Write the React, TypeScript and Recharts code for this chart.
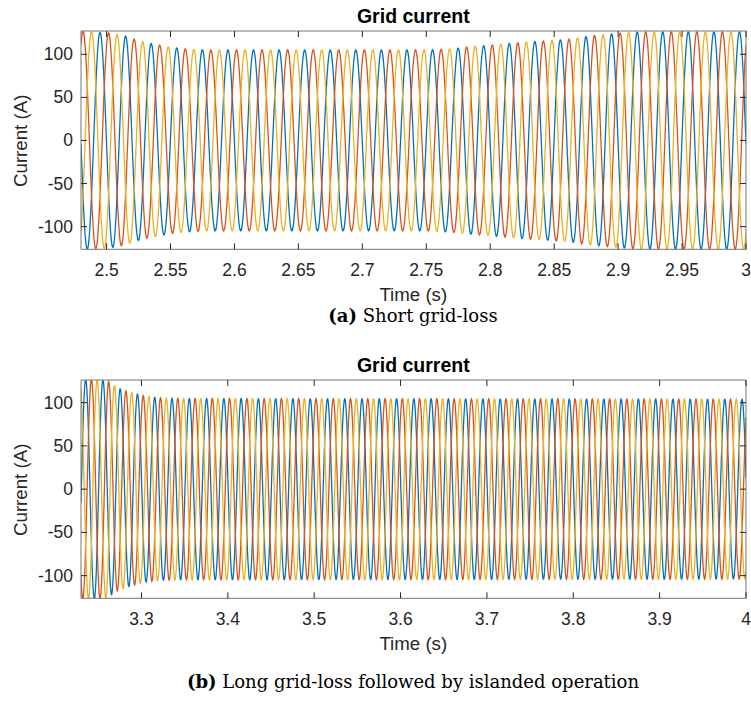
import React from "react";
import { LineChart, Line, XAxis, YAxis } from "recharts";

// ---- data ----
const FREQ_HZ = 50;
const PHASE_SHIFT_CYCLES = { blue: 0, red: 1 / 3, yellow: 2 / 3 }; // lag after blue

// (a) Short grid-loss: current amplitude envelope (A) vs time (s)
const TOP_ENV_T = [2.48, 2.49, 2.5, 2.505, 2.51, 2.515, 2.52, 2.525, 2.53, 2.535, 2.54, 2.545, 2.55, 2.555, 2.56, 2.57, 2.58, 2.75, 2.76, 2.77, 2.78, 2.79, 2.8, 2.81, 2.82, 2.83, 2.84, 2.85, 2.86, 2.87, 2.88, 2.89, 2.9, 2.91, 2.92, 3.0];
const TOP_ENV_A = [126.5, 126, 125, 124, 122.5, 121, 118.5, 116, 114, 112.5, 111, 109.5, 108, 107.3, 106.5, 105.5, 105, 105, 105.5, 106.5, 108, 109.5, 110.5, 112, 113, 114.5, 115, 116.5, 117, 119.5, 121.5, 123, 124.2, 125.5, 126, 126];
const TOP_BLUE_PEAK_T = 2.4949;
const TOP_X_DOMAIN = [2.48, 3.0];
const TOP_Y_DOMAIN = [-126.3, 127];
const TOP_X_TICKS = [2.5, 2.55, 2.6, 2.65, 2.7, 2.75, 2.8, 2.85, 2.9, 2.95, 3];

// (b) Long grid-loss followed by islanded operation
const BOT_ENV_T = [3.23, 3.25, 3.258, 3.262, 3.266, 3.27, 3.275, 3.28, 3.285, 3.29, 3.295, 3.3, 3.305, 3.31, 3.315, 3.325, 3.35, 3.6, 4.0];
const BOT_ENV_A = [127, 127, 126, 124.5, 121.5, 118.5, 116.3, 114, 112.7, 111.5, 110, 108.5, 107.5, 106.8, 106.2, 105.3, 104.8, 104.5, 104];
const BOT_BLUE_PEAK_T = 3.2954;
const BOT_X_DOMAIN = [3.23, 4.0];
const BOT_Y_DOMAIN = [-126.2, 126.2];
const BOT_X_TICKS = [3.3, 3.4, 3.5, 3.6, 3.7, 3.8, 3.9, 4];

const Y_TICKS = [-100, -50, 0, 50, 100];

const TITLE = "Grid current";
const X_LABEL = "Time (s)";
const Y_LABEL = "Current (A)";
const CAPTION_A = ["(a)", " Short grid-loss"];
const CAPTION_B = ["(b)", " Long grid-loss followed by islanded operation"];

const COLORS = { blue: "#0072BD", red: "#D95319", yellow: "#EDB120" };

// ---- build sampled waveforms ----
const STEP = 0.0004;

function envAt(ts: number[], as: number[], t: number) {
  if (t <= ts[0]) return as[0];
  for (let i = 1; i < ts.length; i++) {
    if (t <= ts[i]) {
      const f = (t - ts[i - 1]) / (ts[i] - ts[i - 1]);
      return as[i - 1] + f * (as[i] - as[i - 1]);
    }
  }
  return as[as.length - 1];
}

function buildData(domain: number[], envT: number[], envA: number[], peakT: number) {
  const out: any[] = [];
  const n = Math.round((domain[1] - domain[0]) / STEP);
  for (let i = 0; i <= n; i++) {
    const t = domain[0] + i * STEP;
    const A = envAt(envT, envA, t);
    const th = 2 * Math.PI * FREQ_HZ * (t - peakT);
    out.push({
      t,
      blue: A * Math.cos(th - 2 * Math.PI * PHASE_SHIFT_CYCLES.blue),
      red: A * Math.cos(th - 2 * Math.PI * PHASE_SHIFT_CYCLES.red),
      yellow: A * Math.cos(th - 2 * Math.PI * PHASE_SHIFT_CYCLES.yellow),
    });
  }
  return out;
}

const topData = buildData(TOP_X_DOMAIN, TOP_ENV_T, TOP_ENV_A, TOP_BLUE_PEAK_T);
const botData = buildData(BOT_X_DOMAIN, BOT_ENV_T, BOT_ENV_A, BOT_BLUE_PEAK_T);

// ---- styling ----
const FONT = "'Liberation Sans', Arial, Helvetica, sans-serif";
const TICK_COLOR = "#262626";
const AXIS_COLOR = "#767676";
const TICK_LEN = 6;
const TICK_FS = 17.5;

const BottomTick = (p: any) => (
  <g>
    <line x1={p.x} x2={p.x} y1={p.y} y2={p.y - TICK_LEN} stroke={TICK_COLOR} strokeWidth={1} />
    <text x={p.x} y={p.y + 27} textAnchor="middle" fontSize={TICK_FS} fill={TICK_COLOR} fontFamily={FONT}>
      {String(p.payload.value)}
    </text>
  </g>
);
const TopTick = (p: any) => (
  <line x1={p.x} x2={p.x} y1={p.y} y2={p.y + TICK_LEN} stroke={TICK_COLOR} strokeWidth={1} />
);
const LeftTick = (p: any) => (
  <g>
    <line x1={p.x} x2={p.x + TICK_LEN} y1={p.y} y2={p.y} stroke={TICK_COLOR} strokeWidth={1} />
    <text x={p.x - 8} y={p.y + 6} textAnchor="end" fontSize={TICK_FS} fill={TICK_COLOR} fontFamily={FONT}>
      {String(p.payload.value)}
    </text>
  </g>
);
const RightTick = (p: any) => (
  <line x1={p.x} x2={p.x - TICK_LEN} y1={p.y} y2={p.y} stroke={TICK_COLOR} strokeWidth={1} />
);

function Panel({ data, xDomain, yDomain, xTicks }: any) {
  return (
    <LineChart width={751} height={300} data={data} margin={{ top: 30, right: 4, left: 0, bottom: 0 }}>
      <XAxis
        xAxisId="b"
        dataKey="t"
        type="number"
        domain={xDomain}
        ticks={xTicks}
        allowDataOverflow
        height={50.7}
        tickSize={0}
        tickMargin={0}
        tickLine={false}
        axisLine={{ stroke: AXIS_COLOR }}
        tick={<BottomTick />}
        interval={0}
      />
      <XAxis
        xAxisId="t"
        orientation="top"
        dataKey="t"
        type="number"
        domain={xDomain}
        ticks={xTicks}
        allowDataOverflow
        height={1}
        tickSize={0}
        tickMargin={0}
        tickLine={false}
        axisLine={{ stroke: AXIS_COLOR }}
        tick={<TopTick />}
        interval={0}
      />
      <YAxis
        yAxisId="l"
        type="number"
        domain={yDomain}
        ticks={Y_TICKS}
        allowDataOverflow
        width={81}
        tickSize={0}
        tickMargin={0}
        tickLine={false}
        axisLine={{ stroke: AXIS_COLOR }}
        tick={<LeftTick />}
        interval={0}
      />
      <YAxis
        yAxisId="r"
        orientation="right"
        type="number"
        domain={yDomain}
        ticks={Y_TICKS}
        allowDataOverflow
        width={1}
        tickSize={0}
        tickMargin={0}
        tickLine={false}
        axisLine={{ stroke: AXIS_COLOR }}
        tick={<RightTick />}
        interval={0}
      />
      <Line xAxisId="b" yAxisId="l" dataKey="blue" stroke={COLORS.blue} strokeWidth={1.3} dot={false} type="linear" isAnimationActive={false} />
      <Line xAxisId="b" yAxisId="l" dataKey="red" stroke={COLORS.red} strokeWidth={1.3} dot={false} type="linear" isAnimationActive={false} />
      <Line xAxisId="b" yAxisId="l" dataKey="yellow" stroke={COLORS.yellow} strokeWidth={1.3} dot={false} type="linear" isAnimationActive={false} />
    </LineChart>
  );
}

const SERIF = "'DejaVu Serif', 'Liberation Serif', serif";

export default function App() {
  const off = 349;
  return (
    <div style={{ position: "absolute", left: 0, top: 0, width: 751, height: 702, background: "#fff" }}>
      <div style={{ position: "absolute", left: 0, top: 0 }}>
        <Panel data={topData} xDomain={TOP_X_DOMAIN} yDomain={TOP_Y_DOMAIN} xTicks={TOP_X_TICKS} />
      </div>
      <div style={{ position: "absolute", left: 0, top: off }}>
        <Panel data={botData} xDomain={BOT_X_DOMAIN} yDomain={BOT_Y_DOMAIN} xTicks={BOT_X_TICKS} />
      </div>
      <svg width={751} height={702} style={{ position: "absolute", left: 0, top: 0, pointerEvents: "none" }}>
        {[0, off].map((dy) => (
          <g key={dy}>
            <text x={413.3} y={23 + dy} textAnchor="middle" fontSize={19.5} fontWeight="bold" fill="#000" fontFamily={FONT}>
              {TITLE}
            </text>
            <text x={413.3} y={301 + dy} textAnchor="middle" fontSize={18.7} fill={TICK_COLOR} fontFamily={FONT}>
              {X_LABEL}
            </text>
            <text
              x={26.7}
              y={140.8 + dy}
              textAnchor="middle"
              fontSize={18.7}
              fill={TICK_COLOR}
              fontFamily={FONT}
              transform={`rotate(-90 26.7 ${140.8 + dy})`}
            >
              {Y_LABEL}
            </text>
          </g>
        ))}
        <text x={413} y={322} textAnchor="middle" fontSize={18} fill="#000" fontFamily={SERIF}>
          <tspan fontWeight="bold">{CAPTION_A[0]}</tspan>
          <tspan>{CAPTION_A[1]}</tspan>
        </text>
        <text x={413} y={688} textAnchor="middle" fontSize={18} fill="#000" fontFamily={SERIF}>
          <tspan fontWeight="bold">{CAPTION_B[0]}</tspan>
          <tspan>{CAPTION_B[1]}</tspan>
        </text>
      </svg>
    </div>
  );
}
